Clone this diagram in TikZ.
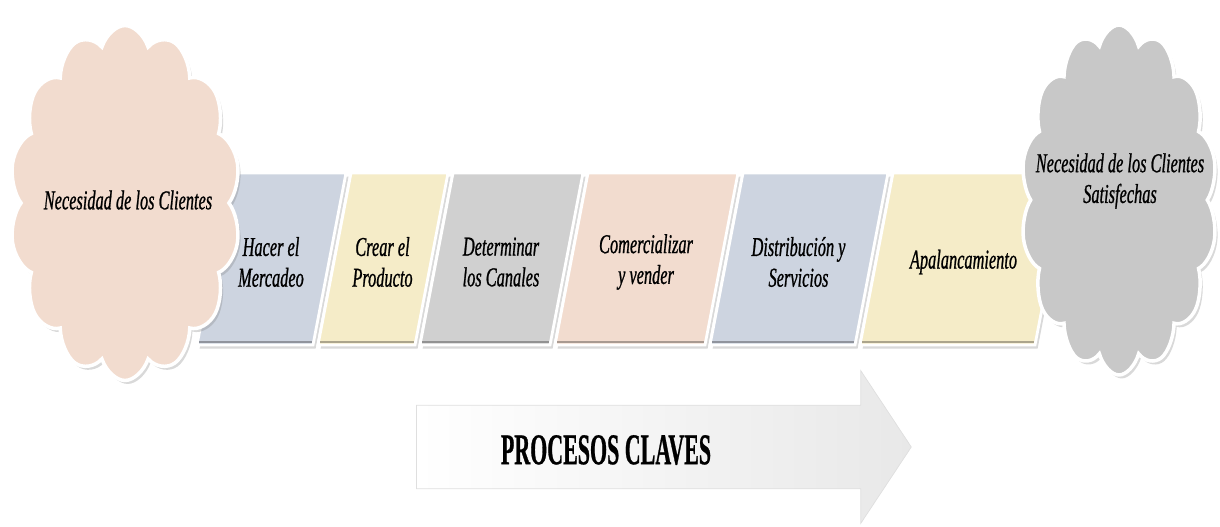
\documentclass[tikz,border=0pt]{standalone}
\usepackage{fontspec}
\setmainfont{Liberation Serif}
\newfontfamily\pasofont[FakeStretch=0.6, FakeBold=0.8]{Liberation Serif}
\newfontfamily\titulofont[FakeStretch=0.5, FakeBold=0.6]{Liberation Serif}
\usetikzlibrary{shapes.symbols, shapes.arrows, shadows}

\definecolor{cpeach}{RGB}{242,220,207}
\definecolor{cazul}{RGB}{205,212,224}
\definecolor{camarillo}{RGB}{245,236,200}
\definecolor{cgris}{RGB}{208,208,208}
\definecolor{cnube}{RGB}{200,200,200}

\tikzset{
  sombra/.style={drop shadow={opacity=0.3, shadow xshift=1.5pt, shadow yshift=-2pt}},
  paso/.style={draw=white, line width=1.6pt, sombra},
  etiqueta/.style={align=center, font=\pasofont\itshape\fontsize{15.5}{17.5}\selectfont},
  nube/.style={cloud, cloud puffs=14, cloud puff arc=125, draw=white, line width=2pt,
    inner sep=0pt, transform shape, sombra},
  flecha/.style={single arrow, single arrow tip angle=113, single arrow head extend=0.69cm,
    inner xsep=0pt, inner ysep=0.83cm, draw=gray!25, left color=white, right color=gray!18}
}

\begin{document}
\begin{tikzpicture}[x=0.02cm, y=-0.02cm]
  \useasboundingbox (0,0) rectangle (1220,527);

  \foreach \xa/\xb/\col/\txt [count=\i] in {
      197/313/cazul/{Hacer el\\Mercadeo},
      318/415/camarillo/{Crear el\\Producto},
      420/550/cgris/{Determinar\\los Canales},
      555/705/cpeach/{Comercializar\\y vender},
      710/855/cazul/{Distribución y\\Servicios},
      860/1035/camarillo/{Apalancamiento}}
  {
    \draw[paso, fill=\col] (\xa,345) -- (\xb,345) -- (\xb+33,173) -- (\xa+33,173) -- cycle;
    \draw[\col!70!black, line width=1.2pt] (\xa+2,342) -- (\xb-1,342);
    \node[etiqueta] (paso\i) at ({(\xa+\xb)/2+16},262) {\txt};
  }

  \node[nube, fill=cpeach, minimum size=7.1cm, xscale=0.65] (nubeA) at (125,203) {};
  \node[etiqueta] (necesidad) at (128,200) {Necesidad de los Clientes};

  \node[nube, fill=cnube, minimum size=7cm, xscale=0.56] (nubeB) at (1119,200) {};
  \node[etiqueta] (satisfechas) at (1120,181) {Necesidad de los Clientes\\Satisfechas};

  \node[flecha, minimum height=9.9cm, minimum width=3.04cm] (procesos) at (650,447) {};
  \node[font=\titulofont\bfseries\fontsize{25}{30}\selectfont] (claves) at (606,450) {PROCESOS CLAVES};
\end{tikzpicture}
\end{document}
